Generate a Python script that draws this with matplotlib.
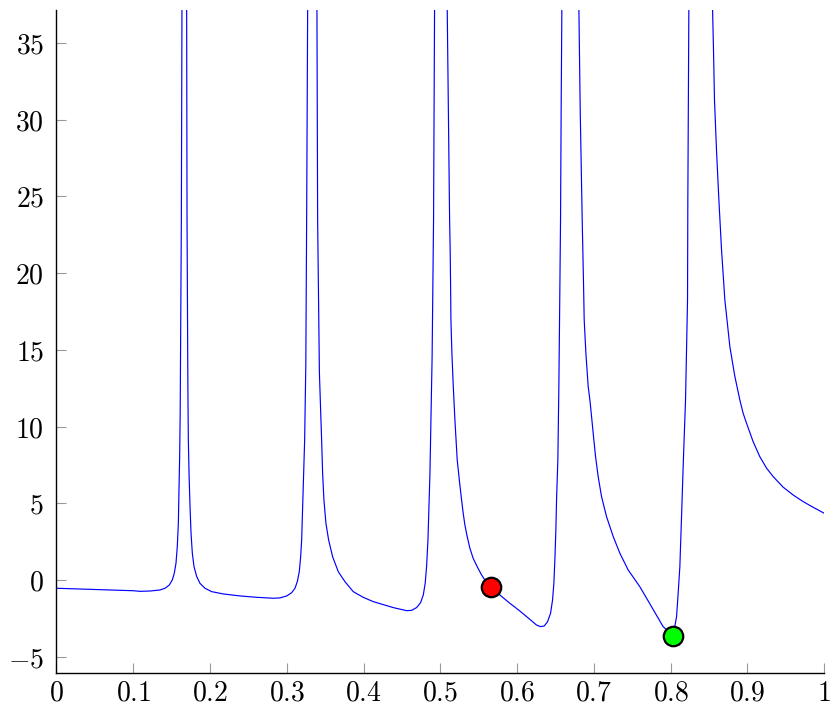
import matplotlib
matplotlib.use("Agg")
import matplotlib.pyplot as plt
from matplotlib.ticker import FuncFormatter
import numpy as np

plt.rcParams["mathtext.fontset"] = "cm"
plt.rcParams["font.family"] = "serif"

# curve, one piece between each pair of poles
seg0_x = [0.0, 0.05, 0.10, 0.1089, 0.1219, 0.1349, 0.1414, 0.1470, 0.1509, 0.1535,
          0.1557, 0.1574, 0.1588, 0.1596, 0.1605, 0.1612, 0.1627, 0.1635]
seg0_y = [-0.54, -0.62, -0.70, -0.74, -0.72, -0.65, -0.54, -0.33, 0.0, 0.44,
          1.09, 2.17, 3.70, 5.87, 8.04, 11.0, 23.5, 37.2]

seg1_x = [0.1696, 0.1701, 0.1712, 0.1718, 0.1727, 0.1740, 0.1753, 0.1770, 0.1792, 0.1827,
          0.1870, 0.1935, 0.2022, 0.2173, 0.2391, 0.2608, 0.2824, 0.2911, 0.2999, 0.3064,
          0.3107, 0.3137, 0.3163, 0.3181, 0.3194, 0.3207, 0.3220, 0.3233, 0.3248, 0.3259,
          0.3272]
seg1_y = [37.2, 23.5, 12.5, 9.13, 6.96, 4.78, 3.05, 1.74, 0.87, 0.22,
          -0.22, -0.54, -0.76, -0.91, -1.04, -1.13, -1.19, -1.17, -1.04, -0.83,
          -0.54, -0.11, 0.54, 1.52, 2.61, 4.78, 6.96, 9.13, 14.0, 23.5,
          37.2]

seg2_x = [0.3393, 0.3402, 0.3425, 0.3454, 0.3467, 0.3484, 0.3510, 0.3545, 0.3597, 0.3671,
          0.3758, 0.3866, 0.3996, 0.4126, 0.4387, 0.4561, 0.4626, 0.4691, 0.4743, 0.4778,
          0.4803, 0.4821, 0.4839, 0.4852, 0.4865, 0.4873, 0.4893, 0.4912, 0.4925]
seg2_y = [37.2, 23.5, 13.5, 9.13, 6.96, 5.22, 3.70, 2.61, 1.52, 0.54,
          -0.11, -0.76, -1.13, -1.41, -1.80, -2.0, -1.98, -1.80, -1.48, -0.98,
          -0.22, 0.87, 2.61, 4.78, 6.96, 9.13, 14.5, 23.5, 37.2]

seg3_x = [0.5090, 0.5121, 0.5129, 0.5134, 0.5138, 0.5151, 0.5169, 0.5190, 0.5220, 0.5250,
          0.5277, 0.5298, 0.5320, 0.5350, 0.5385, 0.5428, 0.5480, 0.5537, 0.5594, 0.5655,
          0.5776, 0.5906, 0.6036, 0.6167, 0.6254, 0.6306, 0.6353, 0.6397, 0.6436, 0.6462,
          0.6479, 0.6492, 0.6505, 0.6514, 0.6531, 0.6544, 0.6553, 0.6566, 0.6574, 0.6583]
seg3_y = [37.2, 23.5, 21.3, 19.13, 16.96, 14.78, 12.61, 10.44, 7.83, 6.4,
          5.22, 4.35, 3.59, 2.83, 2.07, 1.41, 0.87, 0.33, -0.11, -0.48,
          -0.98, -1.52, -2.02, -2.57, -2.94, -3.04, -3.0, -2.72, -2.17, -1.30,
          -0.22, 1.30, 3.26, 5.22, 7.83, 12.61, 16.96, 23.5, 30.7, 37.2]

seg4_x = [0.6805, 0.6822, 0.6848, 0.6857, 0.6866, 0.6874, 0.6896, 0.6926, 0.6948, 0.6970,
          0.6991, 0.7022, 0.7056, 0.7100, 0.7165, 0.7252, 0.7339, 0.7447, 0.7599, 0.7751,
          0.7902, 0.8033, 0.8077, 0.8098, 0.8120, 0.8142, 0.8163, 0.8194, 0.8220, 0.8224,
          0.8231, 0.8237]
seg4_y = [37.2, 30.66, 23.5, 21.3, 19.13, 16.96, 14.78, 12.61, 11.74, 10.65,
          9.57, 8.04, 6.74, 5.43, 4.13, 2.83, 1.74, 0.65, -0.44, -1.74,
          -3.04, -3.63, -2.39, -0.87, 0.87, 4.13, 7.39, 11.74, 18.26, 24.8,
          31.3, 37.2]

seg5_x = [0.8546, 0.8558, 0.8571, 0.8597, 0.8628, 0.8663, 0.8706, 0.8771, 0.8835, 0.8901,
          0.8944, 0.8988, 0.9074, 0.9161, 0.9249, 0.9335, 0.9465, 0.9595, 0.9725, 0.9855,
          1.0]
seg5_y = [37.2, 34.6, 31.3, 28.05, 24.8, 21.5, 18.26, 15.22, 13.3, 11.74,
          10.87, 10.22, 9.02, 8.04, 7.29, 6.74, 6.05, 5.54, 5.11, 4.74,
          4.35]

red_pt = (0.5655, -0.48)
green_pt = (0.8033, -3.63)

segments = [(seg0_x, seg0_y), (seg1_x, seg1_y), (seg2_x, seg2_y),
            (seg3_x, seg3_y), (seg4_x, seg4_y), (seg5_x, seg5_y)]

fig = plt.figure(figsize=(8.3, 7.06), dpi=100)
ax = fig.add_axes([0.068, 0.047, 0.925, 0.939])

for sx, sy in segments:
    ax.plot(sx, sy, color="blue", lw=0.85, solid_joinstyle="round")

ax.plot(*red_pt, "o", ms=14, mfc="red", mec="black", mew=1.6, zorder=5)
ax.plot(*green_pt, "o", ms=14, mfc="#00ff00", mec="black", mew=1.6, zorder=5)

ax.set_xlim(0, 1)
ax.set_ylim(-6.05, 37.15)
ax.set_xticks(np.arange(0, 1.01, 0.1))
ax.set_yticks(np.arange(-5, 36, 5))

fmt = FuncFormatter(lambda v, p: "$%s$" % ("%g" % round(v, 2)))
ax.xaxis.set_major_formatter(fmt)
ax.yaxis.set_major_formatter(fmt)

ax.spines["top"].set_visible(False)
ax.spines["right"].set_visible(False)
for s in ("left", "bottom"):
    ax.spines[s].set_linewidth(1.0)
    ax.spines[s].set_color("black")

ax.tick_params(direction="in", length=7, width=0.8, color="0.6", labelsize=20)
ax.tick_params(axis="x", pad=5)
ax.tick_params(axis="y", pad=9)

fig.savefig("out.png", dpi=100)
